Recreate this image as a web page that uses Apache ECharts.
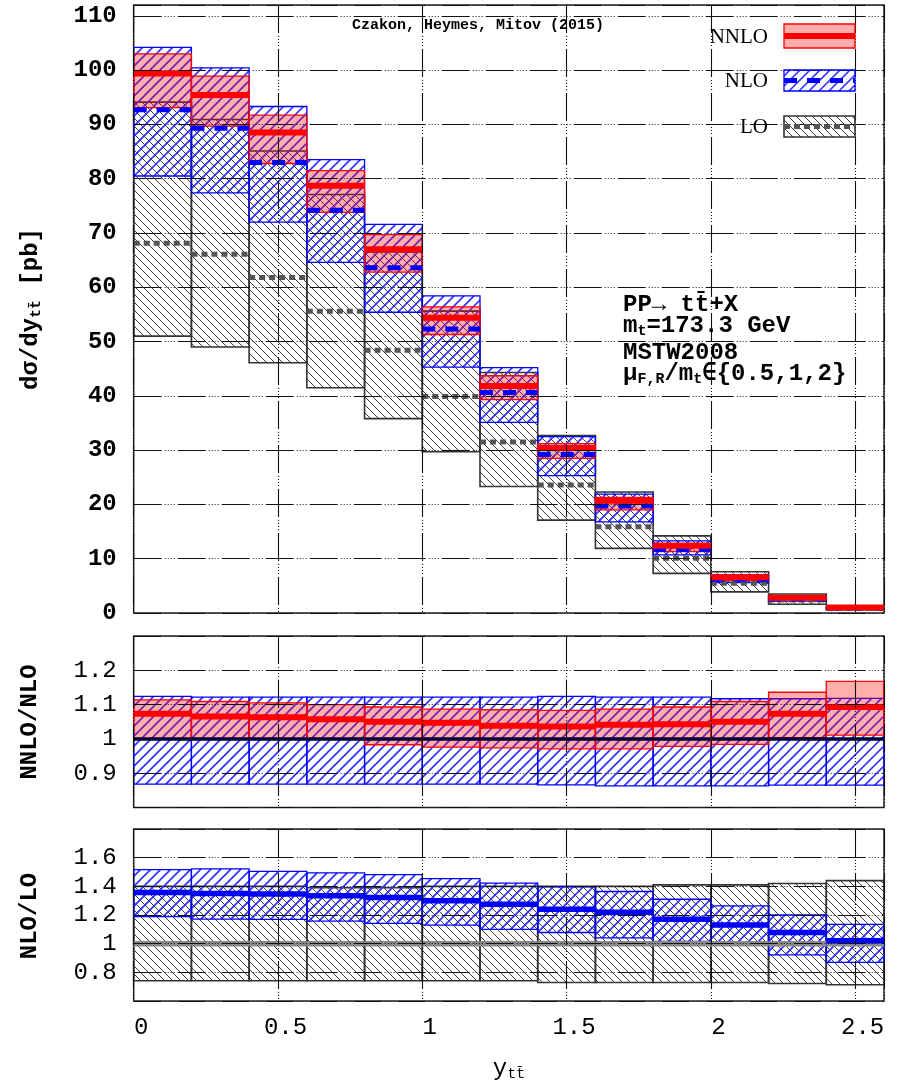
<!DOCTYPE html>
<html><head><meta charset="utf-8">
<script src="https://cdn.jsdelivr.net/npm/echarts@6/dist/echarts.min.js"></script>
<style>html,body{margin:0;padding:0;background:#fff}#c{width:901px;height:1089px}</style>
</head><body><div id="c"></div>
<script>
// ---------- data ----------
const binEdges = [0,0.2,0.4,0.6,0.8,1.0,1.2,1.4,1.6,1.8,2.0,2.2,2.4,2.6];

// top panel: d sigma / d y  [pb]
const loCentral   = [68.1, 66.1, 61.8, 55.6, 48.4, 39.9, 31.5, 23.6, 15.9, 10.1, 5.5, 2.4, 0.85];
const loHigh      = [94.1, 90.9, 85.1, 77.1, 66.5, 55.6, 44.3, 32.7, 22.3, 14.2, 7.6, 3.5, 1.25];
const loLow       = [51.0, 49.0, 46.1, 41.5, 35.8, 29.7, 23.3, 17.1, 11.9, 7.3, 3.9, 1.6, 0.6];
const nloCentral  = [92.7, 89.3, 83.0, 74.2, 63.6, 52.3, 40.6, 29.2, 19.7, 11.7, 6.2, 2.6, 0.9];
const nloHigh     = [104.2, 100.4, 93.3, 83.5, 71.6, 58.4, 45.2, 32.5, 21.9, 13.3, 7.0, 2.9, 1.0];
const nloLow      = [80.5, 77.4, 72.0, 64.6, 55.4, 45.3, 35.1, 25.3, 16.8, 10.7, 5.6, 2.2, 0.75];
const nnloCentral = [99.4, 95.4, 88.5, 78.7, 67.0, 54.4, 41.8, 30.4, 20.7, 12.4, 6.6, 2.8, 1.0];
const nnloHigh    = [103.0, 98.9, 91.7, 81.5, 69.7, 56.4, 43.7, 31.2, 21.3, 12.8, 6.9, 2.95, 1.05];
const nnloLow     = [93.1, 89.7, 82.8, 73.8, 62.8, 51.3, 39.3, 28.5, 19.0, 11.3, 6.0, 2.6, 0.9];

// middle panel: NNLO / NLO
const r1NloCentral  = [1,1,1,1,1,1,1,1,1,1,1,1,1];
const r1NloHigh     = [1.124,1.122,1.122,1.122,1.122,1.122,1.122,1.124,1.122,1.122,1.117,1.117,1.118];
const r1NloLow      = [0.868,0.868,0.868,0.868,0.868,0.868,0.868,0.866,0.863,0.863,0.863,0.865,0.865];
const r1NnloCentral = [1.073,1.065,1.063,1.057,1.050,1.047,1.038,1.036,1.041,1.043,1.050,1.073,1.093];
const r1NnloHigh    = [1.114,1.109,1.105,1.100,1.093,1.087,1.085,1.083,1.087,1.093,1.109,1.136,1.168];
const r1NnloLow     = [1.000,1.000,1.000,1.000,0.983,0.976,0.974,0.971,0.971,0.978,0.984,1.004,1.011];

// bottom panel: NLO / LO
const r2LoCentral  = [1,1,1,1,1,1,1,1,1,1,1,1,1];
const r2LoHigh     = [1.40,1.40,1.40,1.39,1.39,1.40,1.40,1.40,1.40,1.41,1.41,1.42,1.44];
const r2LoLow      = [0.741,0.741,0.741,0.741,0.741,0.741,0.741,0.729,0.729,0.729,0.729,0.722,0.713];
const r2NloCentral = [1.357,1.350,1.346,1.334,1.322,1.299,1.275,1.240,1.219,1.171,1.130,1.078,1.020];
const r2NloHigh    = [1.517,1.522,1.505,1.494,1.482,1.454,1.423,1.397,1.364,1.310,1.263,1.200,1.134];
const r2NloLow     = [1.188,1.171,1.169,1.157,1.141,1.129,1.100,1.078,1.040,1.016,1.000,0.922,0.870];

// ---------- styles ----------
const PINK = 'rgba(255,0,0,0.32)';
const MONO = '"Liberation Mono", "DejaVu Sans Mono", monospace';
const LO_HATCH  = {dir: 'back', step: 8,  color: '#3a3a3a', width: 1.0};
const NLO_HATCH = {dir: 'fwd',  step: 10, color: '#3333ff', width: 1.7};

// 45-degree hatch segments clipped to a pixel rectangle (global phase)
function hatchSegs(x0, y0, x1, y1, h) {
  const s = h.step, out = [];
  if (h.dir === 'fwd') {            // x + y = c
    for (let c = Math.ceil((x0 + y0) / s) * s; c <= x1 + y1; c += s) {
      const xa = Math.max(x0, c - y1), xb = Math.min(x1, c - y0);
      if (xb > xa) out.push([xa, c - xa, xb, c - xb]);
    }
  } else {                          // y - x = c
    for (let c = Math.ceil((y0 - x1) / s) * s; c <= y1 - x0; c += s) {
      const xa = Math.max(x0, y0 - c), xb = Math.min(x1, y1 - c);
      if (xb > xa) out.push([xa, xa + c, xb, xb + c]);
    }
  }
  return out;
}
function segPath(segs) {
  return segs.map(q => 'M' + q[0].toFixed(2) + ' ' + q[1].toFixed(2) + 'L' + q[2].toFixed(2) + ' ' + q[3].toFixed(2)).join('');
}

function bandSeries(gi, lows, highs, hatch, fill, stroke, lw, z) {
  return {
    type: 'custom', xAxisIndex: gi, yAxisIndex: gi, z: z, silent: true,
    data: lows.map((v, i) => [binEdges[i], binEdges[i+1], v, highs[i]]),
    encode: {x: [0, 1], y: [2, 3]},
    renderItem: function (params, api) {
      const a = api.coord([api.value(0), api.value(3)]);
      const b = api.coord([api.value(1), api.value(2)]);
      const children = [{type: 'rect', shape: {x: a[0], y: a[1], width: b[0]-a[0], height: b[1]-a[1]},
              style: {fill: fill || 'none', stroke: stroke, lineWidth: lw}, z2: 2}];
      if (hatch) {
        const d = segPath(hatchSegs(a[0], a[1], b[0], b[1], hatch));
        if (d) children.push({type: 'path', shape: {pathData: d},
                 style: {fill: 'none', stroke: hatch.color, lineWidth: hatch.width}, z2: 1});
      }
      return {type: 'group', children: children};
    }
  };
}
function levelSeries(gi, vals, color, width, dash, z) {
  return {
    type: 'custom', xAxisIndex: gi, yAxisIndex: gi, z: z, silent: true,
    data: vals.map((v, i) => [binEdges[i], binEdges[i+1], v]),
    encode: {x: [0, 1], y: 2},
    renderItem: function (params, api) {
      const a = api.coord([api.value(0), api.value(2)]);
      const b = api.coord([api.value(1), api.value(2)]);
      return {type: 'line', shape: {x1: a[0], y1: a[1], x2: b[0], y2: b[1]},
              style: {stroke: color, lineWidth: width, lineDash: dash || null}};
    }
  };
}

const gridDash = [28, 3, 1, 2, 1, 2, 1, 2, 1, 3];
const splitStyle = {show: true, lineStyle: {color: '#111', width: 1.1, type: gridDash}};
const L = 133.7, R = 17;
function xAx(gi, labels) {
  return {type: 'value', gridIndex: gi, min: 0, max: 2.6, interval: 0.5, z: 10,
    axisLine: {show: false}, axisTick: {show: false}, splitLine: splitStyle,
    axisLabel: {show: labels, fontFamily: MONO, fontSize: 24, color: '#000', margin: 15,
      padding: [0, 0, 0, 15], showMaxLabel: false}};
}
function yAx(gi, min, max, iv, bold) {
  return {type: 'value', gridIndex: gi, min: min, max: max, interval: iv, z: 10,
    axisLine: {show: false}, axisTick: {show: false}, splitLine: splitStyle,
    axisLabel: {fontFamily: MONO, fontSize: 24, fontWeight: bold ? 'bold' : 'normal', color: '#000',
      margin: 17, showMaxLabel: false, showMinLabel: bold ? true : false}};
}

const series = [
  // top
  bandSeries(0, loLow, loHigh, LO_HATCH, null, '#333', 1.6, 1),
  bandSeries(0, nloLow, nloHigh, NLO_HATCH, null, '#0000ff', 1.3, 2),
  bandSeries(0, nnloLow, nnloHigh, null, PINK, '#ff0000', 1.3, 3),
  levelSeries(0, loCentral, '#555', 5, [6, 4], 4),
  levelSeries(0, nloCentral, '#0000ff', 5, [13, 10], 5),
  levelSeries(0, nnloCentral, '#ff0000', 6, null, 6),
  // middle
  bandSeries(1, r1NloLow, r1NloHigh, NLO_HATCH, null, '#0000ff', 1.3, 2),
  bandSeries(1, r1NnloLow, r1NnloHigh, null, PINK, '#ff0000', 1.3, 3),
  levelSeries(1, r1NnloCentral, '#ff0000', 6, null, 6),
  levelSeries(1, r1NloCentral, '#000040', 3.5, null, 5),
  // bottom
  bandSeries(2, r2LoLow, r2LoHigh, LO_HATCH, null, '#333', 1.6, 1),
  bandSeries(2, r2NloLow, r2NloHigh, NLO_HATCH, null, '#0000ff', 1.3, 2),
  levelSeries(2, r2LoCentral, '#888', 5.5, null, 4),
  levelSeries(2, r2NloCentral, '#0000ff', 5.5, null, 5)
];

function legendHatch(x, y, w, h, hatch) {
  return hatchSegs(x, y, x + w, y + h, hatch).map(q => ({type: 'line', z: 20,
    shape: {x1: q[0], y1: q[1], x2: q[2], y2: q[3]}, style: {stroke: hatch.color, lineWidth: hatch.width}}));
}

const sub = {fontSize: 15, fontFamily: MONO, verticalAlign: 'bottom', padding: [10, 0, 0, 0]};
const subB = Object.assign({}, sub, {fontWeight: 'bold'});
const TX = 623;
const graphic = [
  {type: 'text', x: 478, y: 25, z: 20, style: {text: 'Czakon, Heymes, Mitov (2015)', font: 'bold 15px ' + MONO, fill: '#000', align: 'center', verticalAlign: 'middle'}},
  // legend
  {type: 'text', x: 768, y: 37, z: 20, style: {text: 'NNLO', font: '21px "Liberation Serif", serif', fill: '#000', align: 'right', verticalAlign: 'middle'}},
  {type: 'text', x: 768, y: 81, z: 20, style: {text: 'NLO', font: '21px "Liberation Serif", serif', fill: '#000', align: 'right', verticalAlign: 'middle'}},
  {type: 'text', x: 768, y: 127, z: 20, style: {text: 'LO', font: '21px "Liberation Serif", serif', fill: '#000', align: 'right', verticalAlign: 'middle'}},
  {type: 'rect', z: 20, shape: {x: 784, y: 24, width: 71, height: 24}, style: {fill: PINK, stroke: '#ff0000', lineWidth: 1.3}},
  {type: 'line', z: 21, shape: {x1: 784, y1: 36, x2: 855, y2: 36}, style: {stroke: '#ff0000', lineWidth: 6}},
  ...legendHatch(784, 70, 71, 21, NLO_HATCH),
  {type: 'rect', z: 20, shape: {x: 784, y: 70, width: 71, height: 21}, style: {fill: 'none', stroke: '#0000ff', lineWidth: 1.3}},
  {type: 'line', z: 21, shape: {x1: 784, y1: 80.5, x2: 855, y2: 80.5}, style: {stroke: '#0000ff', lineWidth: 5, lineDash: [13, 10]}},
  ...legendHatch(784, 116, 71, 21, LO_HATCH),
  {type: 'rect', z: 20, shape: {x: 784, y: 116, width: 71, height: 21}, style: {fill: 'none', stroke: '#333', lineWidth: 1.6}},
  {type: 'line', z: 21, shape: {x1: 784, y1: 126.5, x2: 855, y2: 126.5}, style: {stroke: '#555', lineWidth: 5, lineDash: [6, 4]}},
  // process info
  {type: 'text', x: TX, y: 305, z: 20, style: {text: 'PP\u2192 tt\u0304+X', font: 'bold 24px ' + MONO, fill: '#000', align: 'left', verticalAlign: 'middle'}},
  {type: 'text', x: TX, y: 326, z: 20, style: {text: 'm{s|t}=173.3 GeV', font: 'bold 24px ' + MONO, fill: '#000', align: 'left', verticalAlign: 'middle', rich: {s: subB}}},
  {type: 'text', x: TX, y: 353, z: 20, style: {text: 'MSTW2008', font: 'bold 24px ' + MONO, fill: '#000', align: 'left', verticalAlign: 'middle'}},
  {type: 'text', x: TX, y: 374, z: 20, style: {text: '\u03bc{s|F,R}/m{s|t}\u2208{0.5,1,2}', font: 'bold 24px ' + MONO, fill: '#000', align: 'left', verticalAlign: 'middle', rich: {s: subB}}},
  // axis titles
  {type: 'text', x: 31, y: 309, rotation: Math.PI/2, z: 20, style: {text: 'd\u03c3/dy{s|tt\u0304} [pb]', font: 'bold 24px ' + MONO, fill: '#000', align: 'center', verticalAlign: 'middle', rich: {s: subB}}},
  {type: 'text', x: 30, y: 722, rotation: Math.PI/2, z: 20, style: {text: 'NNLO/NLO', font: 'bold 24px ' + MONO, fill: '#000', align: 'center', verticalAlign: 'middle'}},
  {type: 'text', x: 30, y: 916, rotation: Math.PI/2, z: 20, style: {text: 'NLO/LO', font: 'bold 24px ' + MONO, fill: '#000', align: 'center', verticalAlign: 'middle'}},
  {type: 'text', x: 509, y: 1069, z: 20, style: {text: 'y{s|tt\u0304}', font: '24px ' + MONO, fill: '#000', align: 'center', verticalAlign: 'middle', rich: {s: sub}}}
];

const chart = echarts.init(document.getElementById('c'), null, {renderer: 'canvas'});
chart.setOption({
  animation: false,
  backgroundColor: '#fff',
  grid: [
    {left: L, right: R, top: 5, height: 608, show: true, borderColor: '#222', borderWidth: 1.5, backgroundColor: 'transparent'},
    {left: L, right: R, top: 636, height: 171.5, show: true, borderColor: '#222', borderWidth: 1.5, backgroundColor: 'transparent'},
    {left: L, right: R, top: 829, height: 172, show: true, borderColor: '#222', borderWidth: 1.5, backgroundColor: 'transparent'}
  ],
  xAxis: [xAx(0, false), xAx(1, false), xAx(2, true)],
  yAxis: [yAx(0, 0, 112, 10, true), yAx(1, 0.8, 1.3, 0.1, false), yAx(2, 0.6, 1.8, 0.2, false)],
  series: series,
  graphic: graphic
});
</script>
</body></html>
